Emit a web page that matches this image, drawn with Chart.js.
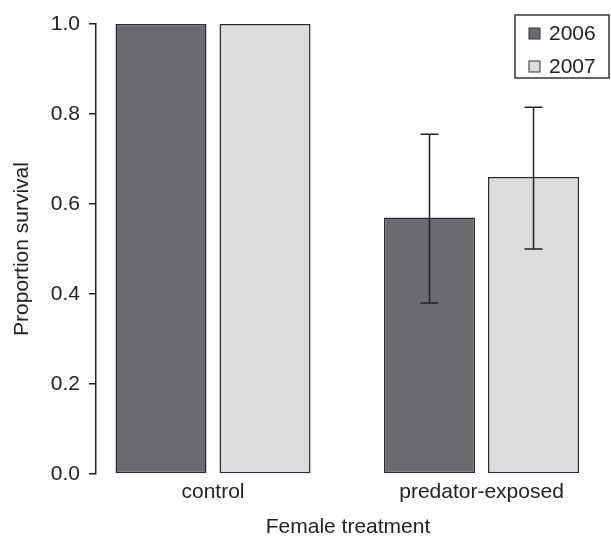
<!DOCTYPE html>
<html>
<head>
<meta charset="utf-8">
<script src="https://cdn.jsdelivr.net/npm/chart.js@4"></script>
<style>
  html, body { margin: 0; padding: 0; background: #fff; }
  #wrap { width: 611px; height: 538px; }
</style>
</head>
<body>
<div id="wrap"><canvas id="survival-chart"></canvas></div>
<script>
// data
const categories = ["control", "predator-exposed"];
const years = ["2006", "2007"];
const survival2006 = [1.0, 0.57];
const survival2007 = [1.0, 0.66];
// error bars (null = none drawn)
const lower2006 = [null, 0.38];
const upper2006 = [null, 0.755];
const lower2007 = [null, 0.50];
const upper2007 = [null, 0.815];
const yTicks = [0.0, 0.2, 0.4, 0.6, 0.8, 1.0];

const ink = "#222";
const fontFamily = "'Liberation Sans', Arial, Helvetica, sans-serif";
const fills = ["#6a6b6f", "#dcdcde"];

// bars sit at 1, 2 on a linear axis so the spacing can match the figure
const toPoints = vals => vals.map((v, i) => ({ x: i + 1, y: v }));
const errorBars = [
  { low: lower2006, high: upper2006 },
  { low: lower2007, high: upper2007 }
];

const errorBarPlugin = {
  id: "errorBars",
  afterDatasetsDraw(chart) {
    const ctx = chart.ctx;
    const y = chart.scales.y;
    ctx.save();
    ctx.strokeStyle = ink;
    ctx.lineWidth = 1.5;
    errorBars.forEach((eb, d) => {
      const meta = chart.getDatasetMeta(d);
      meta.data.forEach((bar, i) => {
        if (eb.low[i] == null) return;
        const x = bar.x;
        const yl = y.getPixelForValue(eb.low[i]);
        const yh = y.getPixelForValue(eb.high[i]);
        ctx.beginPath();
        ctx.moveTo(x, yl); ctx.lineTo(x, yh);
        ctx.moveTo(x - 9, yl); ctx.lineTo(x + 9, yl);
        ctx.moveTo(x - 9, yh); ctx.lineTo(x + 9, yh);
        ctx.stroke();
      });
    });
    ctx.restore();
  }
};

// boxed legend, top right
const boxLegendPlugin = {
  id: "boxLegend",
  afterDraw(chart) {
    const ctx = chart.ctx;
    ctx.save();
    ctx.strokeStyle = "#333";
    ctx.lineWidth = 1.5;
    ctx.strokeRect(515, 15, 94, 63);
    ctx.font = "21px " + fontFamily;
    ctx.textBaseline = "middle";
    ctx.textAlign = "left";
    years.forEach((yr, i) => {
      const cy = 33.5 + i * 33;
      ctx.fillStyle = fills[i];
      ctx.fillRect(529, cy - 5.5, 11, 11);
      ctx.lineWidth = 1;
      ctx.strokeStyle = "#333";
      ctx.strokeRect(529, cy - 5.5, 11, 11);
      ctx.fillStyle = ink;
      ctx.fillText(yr, 549, cy + 1);
    });
    ctx.restore();
  }
};

const ctx = document.getElementById("survival-chart").getContext("2d");

const chart = new Chart(ctx, {
  type: "bar",
  data: {
    datasets: [
      {
        label: years[0],
        data: toPoints(survival2006),
        backgroundColor: fills[0],
        borderColor: "#2b2b2b",
        borderWidth: 1.5,
        borderSkipped: false
      },
      {
        label: years[1],
        data: toPoints(survival2007),
        backgroundColor: fills[1],
        borderColor: "#2b2b2b",
        borderWidth: 1.5,
        borderSkipped: false
      }
    ]
  },
  options: {
    responsive: true,
    maintainAspectRatio: false,
    animation: false,
    categoryPercentage: 0.775,
    barPercentage: 0.875,
    layout: { padding: { top: 24, right: 11, left: 0, bottom: 0 } },
    scales: {
      x: {
        type: "linear",
        offset: false,
        min: 0.5642,
        max: 2.4413,
        afterBuildTicks: s => { s.ticks = categories.map((c, i) => ({ value: i + 1 })); },
        afterFit: s => { s.height = 64; },
        grid: { display: false, drawTicks: false, offset: false },
        border: { display: false },
        ticks: {
          color: ink,
          font: { family: fontFamily, size: 21 },
          padding: 6,
          maxRotation: 0,
          autoSkip: false,
          callback: (v, i) => categories[i]
        },
        title: {
          display: true,
          text: "Female treatment",
          color: ink,
          font: { family: fontFamily, size: 21, lineHeight: 1 },
          padding: 0
        }
      },
      y: {
        min: 0,
        max: 1,
        afterBuildTicks: s => { s.ticks = yTicks.map(v => ({ value: v })); },
        afterFit: s => { s.width = 96; },
        grid: {
          drawOnChartArea: false,
          tickLength: 7,
          color: ink,
          lineWidth: 1.5
        },
        border: { display: true, color: ink, width: 1.5 },
        ticks: {
          color: ink,
          font: { family: fontFamily, size: 21 },
          padding: 9,
          callback: v => Number(v).toFixed(1)
        },
        title: {
          display: true,
          text: "Proportion survival",
          color: ink,
          font: { family: fontFamily, size: 21 },
          padding: { top: 10, bottom: 0 }
        }
      }
    },
    plugins: {
      legend: { display: false },
      tooltip: { enabled: false }
    }
  },
  plugins: [errorBarPlugin, boxLegendPlugin]
});
</script>
</body>
</html>
